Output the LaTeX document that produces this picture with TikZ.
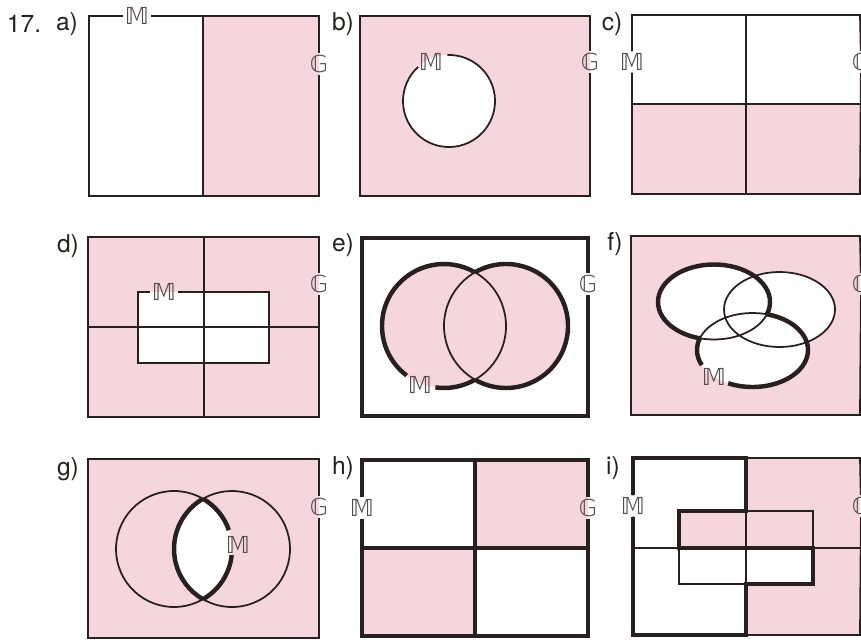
\documentclass[tikz,border=0pt]{standalone}
\usepackage{fontspec}
\setmainfont{TeX Gyre Heros}
\newfontfamily\dejavu{DejaVu Sans}
\definecolor{rosa}{RGB}{246,214,221}
\definecolor{ink}{RGB}{40,32,32}

\begin{document}
\begin{tikzpicture}[x=0.03cm, y=-0.03cm,
		thinline/.style={draw=ink, line width=1.5pt},
		thickline/.style={draw=ink, line width=3.8pt},
		tag/.style={font=\fontsize{21}{24}\selectfont, text=ink, inner sep=0pt},
		setname/.style={font=\dejavu\fontsize{20}{22}\selectfont, text=ink!80, inner sep=1.5pt}]
		\clip (0,0) rectangle (861,640);

		% a)
		\fill [rosa] (203,16) rectangle (319,196);
		\node [tag] (num) at (24,24) {17.};
		\node [tag] (ta) at (67,24) {a)};
		\node [setname] (ma) at (137,16) {𝕄};
		\node [setname] (ga) at (319,64) {𝔾};
		\draw [thinline] (ma) -- (319,16) -- (ga);
		\draw [thinline] (ga) -- (319,196) -- (89,196) -- (89,16) -- (ma);
		\draw [thinline] (203,16) -- (203,196);

		% b)
		\fill [rosa] (360,16) rectangle (590,196);
		\fill [white] (449,101) circle [radius=46];
		\node [tag] (tb) at (343,24) {b)};
		\node [setname] (mb) at (431,62) {𝕄};
		\node [setname] (gb) at (590,62) {𝔾};
		\draw [thinline] (gb) -- (590,196) -- (360,196) -- (360,16) -- (590,16) -- (gb);
		\draw [thinline] (449,101) ++(268:46) arc [start angle=268, end angle=588, radius=46];

		% c)
		\fill [rosa] (632,104) rectangle (860,194);
		\node [tag] (tc) at (612,24) {c)};
		\node [setname] (mc) at (632,62) {𝕄};
		\node [setname] (gc) at (861,62) {𝔾};
		\draw [thinline] (mc) -- (632,15) -- (860,15) -- (gc);
		\draw [thinline] (gc) -- (860,194) -- (632,194) -- (mc);
		\draw [thinline] (632,104) -- (860,104) (746,15) -- (746,194);

		% d)
		\fill [rosa] (88,237) rectangle (319,417);
		\fill [white] (138,292) rectangle (269,363);
		\node [tag] (td) at (68,246) {d)};
		\node [setname] (md) at (164,292) {𝕄};
		\node [setname] (gd) at (319,284) {𝔾};
		\draw [thinline] (gd) -- (319,417) -- (88,417) -- (88,237) -- (319,237) -- (gd);
		\draw [thinline] (md) -- (269,292) -- (269,363) -- (138,363) -- (138,292) -- (md);
		\draw [thinline] (204,237) -- (204,417) (88,327) -- (319,327);

		% e)
		\fill [rosa] (444,326) circle [radius=62] (506,326) circle [radius=62];
		\node [tag] (te) at (343,245) {e)};
		\node [setname] (me) at (420,385) {𝕄};
		\node [setname] (ge) at (588,284) {𝔾};
		\draw [thickline] (ge) -- (588,416) -- (362,416) -- (362,238) -- (588,238) -- (ge);
		\draw [thinline] (444,326) ++(-60:62) arc [start angle=-60, end angle=60, radius=62];
		\draw [thinline] (506,326) ++(120:62) arc [start angle=120, end angle=240, radius=62];
		\draw [thickline] (444,326) ++(127:62) arc [start angle=127, end angle=300, radius=62];
		\draw [thickline] (444,326) ++(60:62) arc [start angle=60, end angle=98, radius=62];
		\draw [thickline] (506,326) ++(-120:62) arc [start angle=-120, end angle=120, radius=62];

		% f)
		\fill [rosa] (631,236) rectangle (860,415);
		\fill [white] (714,302) ellipse [x radius=56, y radius=37.5] (779.5,309.5) ellipse [x radius=55.5, y radius=37.5] (752.5,350) ellipse [x radius=55.5, y radius=37];
		\node [tag] (tf) at (615,244) {f)};
		\node [setname] (mf) at (714,377) {𝕄};
		\node [setname] (gf) at (861,284) {𝔾};
		\draw [thinline] (gf) -- (860,415) -- (631,415) -- (631,236) -- (860,236) -- (gf);
		\draw [thinline] (779.5,309.5) ellipse [x radius=55.5, y radius=37.5];
		\begin{scope}
			\clip (752.5,350) ellipse [x radius=55.5, y radius=37];
			\draw [thinline] (714,302) ellipse [x radius=56, y radius=37.5];
		\end{scope}
		\begin{scope}
			\clip (714,302) ellipse [x radius=56, y radius=37.5];
			\draw [thinline] (752.5,350) ellipse [x radius=55.5, y radius=37];
		\end{scope}
		\begin{scope}[even odd rule]
			\clip (620,225) rectangle (870,425) (752.5,350) ellipse [x radius=55.5, y radius=37];
			\draw [thickline] (714,302) ellipse [x radius=56, y radius=37.5];
		\end{scope}
		\begin{scope}[even odd rule]
			\clip (620,225) rectangle (870,425) (714,302) ellipse [x radius=56, y radius=37.5];
			\draw [thickline] (752.5,350) ++(156:55.5 and 37) arc [start angle=156, end angle=476, x radius=55.5, y radius=37];
		\end{scope}

		% g)
		\fill [rosa] (88,459) rectangle (319,638);
		\begin{scope}
			\clip (174,549) circle [radius=58];
			\fill [white] (232,549) circle [radius=58];
		\end{scope}
		\node [tag] (tg) at (68,469) {g)};
		\node [setname] (mg) at (238,545) {𝕄};
		\node [setname] (gg) at (319,507) {𝔾};
		\draw [thinline] (gg) -- (319,638) -- (88,638) -- (88,459) -- (319,459) -- (gg);
		\draw [thinline] (174,549) ++(60:58) arc [start angle=60, end angle=300, radius=58];
		\draw [thinline] (232,549) ++(-120:58) arc [start angle=-120, end angle=120, radius=58];
		\draw [thickline] (232,549) ++(120:58) arc [start angle=120, end angle=240, radius=58];
		\draw [thickline] (174,549) ++(-60:58) arc [start angle=-60, end angle=-19, radius=58];
		\draw [thickline] (174,549) ++(6:58) arc [start angle=6, end angle=60, radius=58];

		% h)
		\fill [rosa] (475,460) rectangle (588,548) (362,548) rectangle (475,636);
		\node [tag] (th) at (343,468) {h)};
		\node [setname] (mh) at (362,508) {𝕄};
		\node [setname] (gh) at (588,508) {𝔾};
		\draw [thickline] (mh) -- (362,460) -- (588,460) -- (gh);
		\draw [thickline] (gh) -- (588,636) -- (362,636) -- (mh);
		\draw [thickline] (475,460) -- (475,636) (362,548) -- (588,548);

		% i)
		\fill [rosa] (746,458) rectangle (860,635);
		\fill [white] (746,548) rectangle (813,584);
		\fill [rosa] (679,511) rectangle (746,548);
		\node [tag] (ti) at (613,468) {i)};
		\node [setname] (mi) at (633,506) {𝕄};
		\node [setname] (gi) at (861,506) {𝔾};
		\draw [thinline] (mi) -- (633,458) -- (860,458) -- (gi);
		\draw [thinline] (gi) -- (860,635) -- (633,635) -- (mi);
		\draw [thinline] (746,458) -- (746,635) (633,548) -- (860,548);
		\draw [thinline] (679,511) rectangle (813,584);
		\draw [thickline] (mi) -- (633,458) -- (746,458) -- (746,511) -- (679,511) -- (679,548) -- (813,548) -- (813,584) -- (746,584) -- (746,635) -- (633,635) -- (mi);
	\end{tikzpicture}
\end{document}
